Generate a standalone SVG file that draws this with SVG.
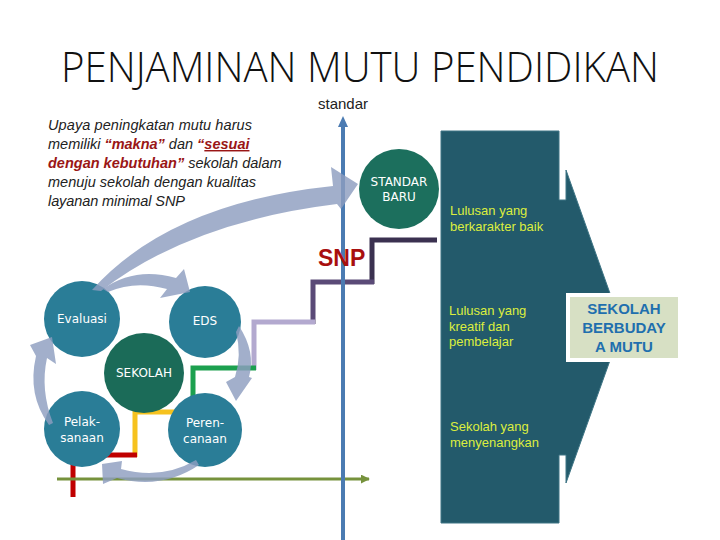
<svg xmlns="http://www.w3.org/2000/svg" width="720" height="540" viewBox="0 0 720 540">
<defs>
<style>
.title{font-family:"Open Sans","Liberation Sans",sans-serif;font-size:42px;font-weight:300;fill:#111;}
.para{font-family:"Liberation Sans",Arial,sans-serif;font-style:italic;font-size:14.5px;fill:#222;}
.red{fill:#9a1616;font-weight:bold;}
.circ{fill:#2a7d97;}
.ctext{font-family:"DejaVu Sans",sans-serif;font-size:12px;fill:#fff;text-anchor:middle;}
.yel{font-family:"Liberation Sans",Arial,sans-serif;font-size:13px;fill:#dcee3e;}
.step{fill:none;stroke-width:5;}
.cyc{fill:#8e9ec0;opacity:0.82;}
</style>
<marker id="ah" viewBox="0 0 10 10" refX="9" refY="5" markerWidth="3" markerHeight="3" orient="auto"><path d="M0 0 L10 5 L0 10 Z" fill="#76923c"/></marker>
</defs>
<rect width="720" height="540" fill="#fff"/>
<text class="title" x="360" y="82" text-anchor="middle" textLength="598" lengthAdjust="spacingAndGlyphs">PENJAMINAN MUTU PENDIDIKAN</text>
<text x="343" y="109" text-anchor="middle" font-family="Liberation Sans,Arial,sans-serif" font-size="15" fill="#222">standar</text>

<g id="paragraph" class="para">
<text x="48" y="130" textLength="204" lengthAdjust="spacing">Upaya peningkatan mutu harus</text>
<text x="48" y="149">memiliki <tspan class="red">“makna”</tspan> dan <tspan class="red">“</tspan><tspan class="red" text-decoration="underline">sesuai</tspan></text>
<text x="48" y="168"><tspan class="red">dengan kebutuhan”</tspan> sekolah dalam</text>
<text x="48" y="187" textLength="208" lengthAdjust="spacing">menuju sekolah dengan kualitas</text>
<text x="48" y="206" textLength="137" lengthAdjust="spacing">layanan minimal SNP</text>
</g>

<g id="big-shape">
<polygon points="441,131 559,131 559,200 566,200 566,170 622,327 566,483 566,455 559,455 559,523 441,523" fill="#235a6b" stroke="#3f7585" stroke-width="1"/>
<text class="yel" x="450" y="215">Lulusan yang</text>
<text class="yel" x="450" y="231">berkarakter baik</text>
<text class="yel" x="449" y="315">Lulusan yang</text>
<text class="yel" x="449" y="331">kreatif dan</text>
<text class="yel" x="449" y="346">pembelajar</text>
<text class="yel" x="450" y="431">Sekolah yang</text>
<text class="yel" x="450" y="447">menyenangkan</text>
</g>

<g id="budaya-mutu">
<rect x="568" y="295" width="112" height="65" fill="#d7e0c4" stroke="#fff" stroke-width="4"/>
<g font-family="Liberation Sans,Arial,sans-serif" font-size="15" font-weight="bold" fill="#1f6fae" text-anchor="middle">
<text x="624" y="314">SEKOLAH</text>
<text x="624" y="333">BERBUDAY</text>
<text x="624" y="352">A MUTU</text>
</g>
</g>

<g id="staircase">
<path class="step" d="M437 240 H372 V284" stroke="#3b3150"/>
<path class="step" d="M374 282 H313 V324" stroke="#5a4a77"/>
<path class="step" d="M315 322 H254 V370" stroke="#b3a9cf"/>
<path class="step" d="M256 368 H193 V398" stroke="#1ca04f"/>
<path class="step" d="M185 412 H135 V457" stroke="#f6c21e"/>
<path class="step" d="M137 455 H73 V497" stroke="#c00000"/>
</g>

<g id="axes">
<line x1="57" y1="479" x2="369" y2="479" stroke="#76923c" stroke-width="3" marker-end="url(#ah)"/>
<line x1="343" y1="540" x2="343" y2="125" stroke="#4b7bb2" stroke-width="4"/>
<polygon points="343,116 348,127 338,127" fill="#4b7bb2"/>
</g>

<g id="snp"><text x="318" y="266" font-family="Liberation Sans,Arial,sans-serif" font-size="23" font-weight="bold" fill="#a80f0f">SNP</text></g>

<g id="standar-baru">
<circle cx="399" cy="189" r="40" fill="#1c6f5d"/>
<text class="ctext" x="399" y="186" font-size="11">STANDAR</text>
<text class="ctext" x="399" y="201" font-size="11">BARU</text>
</g>

<g id="evaluasi"><circle class="circ" cx="82" cy="319" r="38"/><text class="ctext" x="82" y="323">Evaluasi</text></g>
<g id="eds"><circle class="circ" cx="205" cy="322" r="36"/><text class="ctext" x="205" y="325">EDS</text></g>
<g id="sekolah"><circle cx="144" cy="373" r="40" fill="#1b6b58"/><text class="ctext" x="144" y="377" font-size="11">SEKOLAH</text></g>
<g id="pelaksanaan"><circle class="circ" cx="82" cy="429" r="38"/><text class="ctext" x="82" y="426">Pelak-</text><text class="ctext" x="82" y="442">sanaan</text></g>
<g id="perencanaan"><circle class="circ" cx="205" cy="430" r="37"/><text class="ctext" x="205" y="427">Peren-</text><text class="ctext" x="205" y="443">canaan</text></g>

<g id="connectors">
<path class="cyc" d="M92 290 Q 170 203 333 186 L 331 167 L 358 184 L 341 209 L 337 204 Q 190 222 101 291 Z"/>
<path class="cyc" d="M103 289 Q 135 266 176 278 L 184 269 L 190 292 L 160 298 L 167 289 Q 135 280 108 292 Z"/>
<path class="cyc" d="M239 326 Q 256 352 249 377 L 252 378 L 236 401 L 226 382 L 235 377 Q 242 355 236 332 Z"/>
<path class="cyc" d="M196 460 Q 162 480 121 469 L 122 461 L 102 464 L 103 484 L 117 478 Q 162 490 199 465 Z"/>
<path class="cyc" d="M49 425 Q 27 395 36 356 L 30 345 L 52 337 L 56 364 L 47 358 Q 40 390 53 423 Z"/>
</g>
</svg>
